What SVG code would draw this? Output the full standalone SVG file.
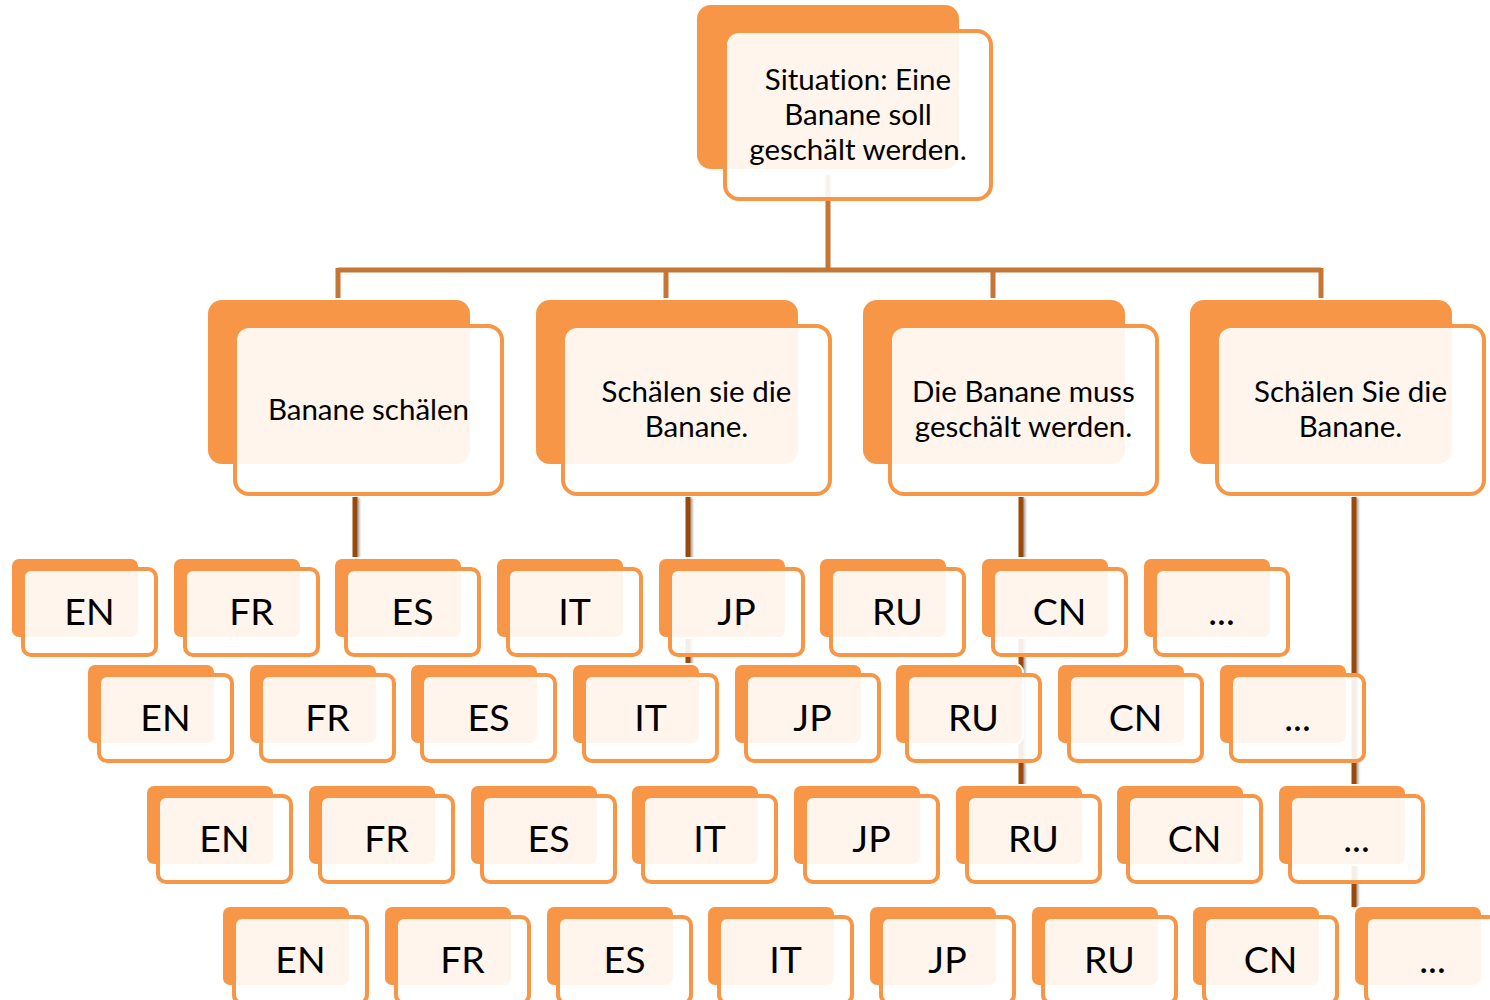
<svg xmlns="http://www.w3.org/2000/svg" xmlns:xlink="http://www.w3.org/1999/xlink" width="1490" height="1000" viewBox="0 0 1490 1000">
<defs>
<style>
.bk{fill:#F79646;stroke:#FFFFFF;stroke-width:4;paint-order:stroke}
.fr{fill:#FFFFFF;fill-opacity:0.9;stroke:#F79646;stroke-width:4}
.t{font-family:Lato,"Liberation Sans",sans-serif;fill:#000;text-anchor:middle;font-variant-ligatures:none;font-feature-settings:"liga" 0}
.big{font-size:29.5px}
.lang{font-size:37.5px}
.c1{stroke:#C67634;stroke-width:5;fill:none}
.c2{stroke:#9A4A08;stroke-width:5;fill:none}
</style>
<filter id="sh" x="-50%" y="-10%" width="200%" height="120%">
<feDropShadow dx="2" dy="1" stdDeviation="1.2" flood-color="#000" flood-opacity="0.35"/>
</filter>
</defs>
<rect width="1490" height="1000" fill="#FFFFFF"/>
<g id="connectors">
<path class="c1" d="M828 175V270M338 270H1321M338 268V298M666 268V298M993 268V298M1321 268V298"/>
<g filter="url(#sh)">
<path class="c2" d="M355 497V559M688 497V665M1021 497V786M1354 497V907"/>
</g>
</g>
<g id="n-situation" transform="translate(697,5)">
<rect class="bk" x="0" y="0" width="262" height="164" rx="14"/>
<rect class="fr" x="28" y="26" width="266" height="168" rx="14"/>
<text class="t big" x="161" y="85">Situation: Eine</text>
<text class="t big" x="161" y="120">Banane soll</text>
<text class="t big" x="161" y="155">geschält werden.</text>
</g>
<g id="n-banane-schaelen" transform="translate(208,300)">
<rect class="bk" x="0" y="0" width="262" height="164" rx="14"/>
<rect class="fr" x="27" y="26" width="267" height="168" rx="14"/>
<text class="t big" x="160.5" y="120">Banane schälen</text>
</g>
<g id="n-schaelen-sie-klein" transform="translate(536,300)">
<rect class="bk" x="0" y="0" width="262" height="164" rx="14"/>
<rect class="fr" x="27" y="26" width="267" height="168" rx="14"/>
<text class="t big" x="160.5" y="102">Schälen sie die</text>
<text class="t big" x="160.5" y="137">Banane.</text>
</g>
<g id="n-banane-muss" transform="translate(863,300)">
<rect class="bk" x="0" y="0" width="262" height="164" rx="14"/>
<rect class="fr" x="27" y="26" width="267" height="168" rx="14"/>
<text class="t big" x="160.5" y="102">Die Banane muss</text>
<text class="t big" x="160.5" y="137">geschält werden.</text>
</g>
<g id="n-schaelen-sie-gross" transform="translate(1190,300)">
<rect class="bk" x="0" y="0" width="262" height="164" rx="14"/>
<rect class="fr" x="27" y="26" width="267" height="168" rx="14"/>
<text class="t big" x="160.5" y="102">Schälen Sie die</text>
<text class="t big" x="160.5" y="137">Banane.</text>
</g>
<!-- Row 1 -->
<g id="r1-en" transform="translate(12,559)"><rect class="bk" width="126" height="78" rx="7"/><rect class="fr" x="11" y="10" width="133" height="86" rx="8"/><text class="t lang" x="77.5" y="66">EN</text></g>
<g id="r1-fr" transform="translate(174,559)"><rect class="bk" width="126" height="78" rx="7"/><rect class="fr" x="11" y="10" width="133" height="86" rx="8"/><text class="t lang" x="77.5" y="66">FR</text></g>
<g id="r1-es" transform="translate(335,559)"><rect class="bk" width="126" height="78" rx="7"/><rect class="fr" x="11" y="10" width="133" height="86" rx="8"/><text class="t lang" x="77.5" y="66">ES</text></g>
<g id="r1-it" transform="translate(497,559)"><rect class="bk" width="126" height="78" rx="7"/><rect class="fr" x="11" y="10" width="133" height="86" rx="8"/><text class="t lang" x="77.5" y="66">IT</text></g>
<g id="r1-jp" transform="translate(659,559)"><rect class="bk" width="126" height="78" rx="7"/><rect class="fr" x="11" y="10" width="133" height="86" rx="8"/><text class="t lang" x="77.5" y="66">JP</text></g>
<g id="r1-ru" transform="translate(820,559)"><rect class="bk" width="126" height="78" rx="7"/><rect class="fr" x="11" y="10" width="133" height="86" rx="8"/><text class="t lang" x="77.5" y="66">RU</text></g>
<g id="r1-cn" transform="translate(982,559)"><rect class="bk" width="126" height="78" rx="7"/><rect class="fr" x="11" y="10" width="133" height="86" rx="8"/><text class="t lang" x="77.5" y="66">CN</text></g>
<g id="r1-more" transform="translate(1144,559)"><rect class="bk" width="126" height="78" rx="7"/><rect class="fr" x="11" y="10" width="133" height="86" rx="8"/><text class="t lang" x="77.5" y="66">...</text></g>
<!-- Row 2 -->
<g id="r2-en" transform="translate(88,665)"><rect class="bk" width="126" height="78" rx="7"/><rect class="fr" x="11" y="10" width="133" height="86" rx="8"/><text class="t lang" x="77.5" y="66">EN</text></g>
<g id="r2-fr" transform="translate(250,665)"><rect class="bk" width="126" height="78" rx="7"/><rect class="fr" x="11" y="10" width="133" height="86" rx="8"/><text class="t lang" x="77.5" y="66">FR</text></g>
<g id="r2-es" transform="translate(411,665)"><rect class="bk" width="126" height="78" rx="7"/><rect class="fr" x="11" y="10" width="133" height="86" rx="8"/><text class="t lang" x="77.5" y="66">ES</text></g>
<g id="r2-it" transform="translate(573,665)"><rect class="bk" width="126" height="78" rx="7"/><rect class="fr" x="11" y="10" width="133" height="86" rx="8"/><text class="t lang" x="77.5" y="66">IT</text></g>
<g id="r2-jp" transform="translate(735,665)"><rect class="bk" width="126" height="78" rx="7"/><rect class="fr" x="11" y="10" width="133" height="86" rx="8"/><text class="t lang" x="77.5" y="66">JP</text></g>
<g id="r2-ru" transform="translate(896,665)"><rect class="bk" width="126" height="78" rx="7"/><rect class="fr" x="11" y="10" width="133" height="86" rx="8"/><text class="t lang" x="77.5" y="66">RU</text></g>
<g id="r2-cn" transform="translate(1058,665)"><rect class="bk" width="126" height="78" rx="7"/><rect class="fr" x="11" y="10" width="133" height="86" rx="8"/><text class="t lang" x="77.5" y="66">CN</text></g>
<g id="r2-more" transform="translate(1220,665)"><rect class="bk" width="126" height="78" rx="7"/><rect class="fr" x="11" y="10" width="133" height="86" rx="8"/><text class="t lang" x="77.5" y="66">...</text></g>
<!-- Row 3 -->
<g id="r3-en" transform="translate(147,786)"><rect class="bk" width="126" height="78" rx="7"/><rect class="fr" x="11" y="10" width="133" height="86" rx="8"/><text class="t lang" x="77.5" y="66">EN</text></g>
<g id="r3-fr" transform="translate(309,786)"><rect class="bk" width="126" height="78" rx="7"/><rect class="fr" x="11" y="10" width="133" height="86" rx="8"/><text class="t lang" x="77.5" y="66">FR</text></g>
<g id="r3-es" transform="translate(471,786)"><rect class="bk" width="126" height="78" rx="7"/><rect class="fr" x="11" y="10" width="133" height="86" rx="8"/><text class="t lang" x="77.5" y="66">ES</text></g>
<g id="r3-it" transform="translate(632,786)"><rect class="bk" width="126" height="78" rx="7"/><rect class="fr" x="11" y="10" width="133" height="86" rx="8"/><text class="t lang" x="77.5" y="66">IT</text></g>
<g id="r3-jp" transform="translate(794,786)"><rect class="bk" width="126" height="78" rx="7"/><rect class="fr" x="11" y="10" width="133" height="86" rx="8"/><text class="t lang" x="77.5" y="66">JP</text></g>
<g id="r3-ru" transform="translate(956,786)"><rect class="bk" width="126" height="78" rx="7"/><rect class="fr" x="11" y="10" width="133" height="86" rx="8"/><text class="t lang" x="77.5" y="66">RU</text></g>
<g id="r3-cn" transform="translate(1117,786)"><rect class="bk" width="126" height="78" rx="7"/><rect class="fr" x="11" y="10" width="133" height="86" rx="8"/><text class="t lang" x="77.5" y="66">CN</text></g>
<g id="r3-more" transform="translate(1279,786)"><rect class="bk" width="126" height="78" rx="7"/><rect class="fr" x="11" y="10" width="133" height="86" rx="8"/><text class="t lang" x="77.5" y="66">...</text></g>
<!-- Row 4 -->
<g id="r4-en" transform="translate(223,907)"><rect class="bk" width="126" height="78" rx="7"/><rect class="fr" x="11" y="10" width="133" height="86" rx="8"/><text class="t lang" x="77.5" y="66">EN</text></g>
<g id="r4-fr" transform="translate(385,907)"><rect class="bk" width="126" height="78" rx="7"/><rect class="fr" x="11" y="10" width="133" height="86" rx="8"/><text class="t lang" x="77.5" y="66">FR</text></g>
<g id="r4-es" transform="translate(547,907)"><rect class="bk" width="126" height="78" rx="7"/><rect class="fr" x="11" y="10" width="133" height="86" rx="8"/><text class="t lang" x="77.5" y="66">ES</text></g>
<g id="r4-it" transform="translate(708,907)"><rect class="bk" width="126" height="78" rx="7"/><rect class="fr" x="11" y="10" width="133" height="86" rx="8"/><text class="t lang" x="77.5" y="66">IT</text></g>
<g id="r4-jp" transform="translate(870,907)"><rect class="bk" width="126" height="78" rx="7"/><rect class="fr" x="11" y="10" width="133" height="86" rx="8"/><text class="t lang" x="77.5" y="66">JP</text></g>
<g id="r4-ru" transform="translate(1032,907)"><rect class="bk" width="126" height="78" rx="7"/><rect class="fr" x="11" y="10" width="133" height="86" rx="8"/><text class="t lang" x="77.5" y="66">RU</text></g>
<g id="r4-cn" transform="translate(1193,907)"><rect class="bk" width="126" height="78" rx="7"/><rect class="fr" x="11" y="10" width="133" height="86" rx="8"/><text class="t lang" x="77.5" y="66">CN</text></g>
<g id="r4-more" transform="translate(1355,907)"><rect class="bk" width="126" height="78" rx="7"/><rect class="fr" x="11" y="10" width="133" height="86" rx="8"/><text class="t lang" x="77.5" y="66">...</text></g>
</svg>
